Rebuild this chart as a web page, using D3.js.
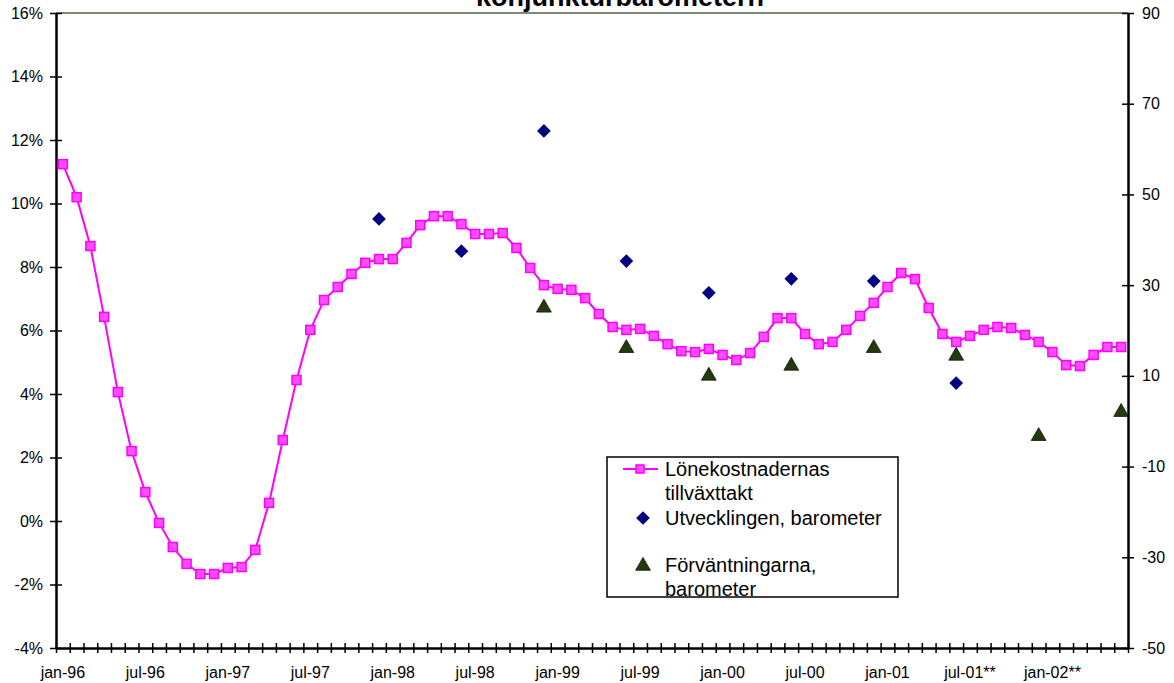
<!DOCTYPE html>
<html>
<head>
<meta charset="utf-8">
<script src="https://cdn.jsdelivr.net/npm/d3@7"></script>
<style>
  body { margin: 0; background: #fff; }
  svg { display: block; font-family: Arial, "Liberation Sans", sans-serif; }
</style>
</head>
<body>
<div id="chart"></div>
<script>
// months jan-96 .. jun-02
var monthNames = ["jan","feb","mar","apr","maj","jun","jul","aug","sep","okt","nov","dec"];
var years = ["96","97","98","99","00","01","02"];
var categories = [];
years.forEach(function(y) {
    monthNames.forEach(function(m) {
        if (categories.length < 78) categories.push(m + "-" + y);
    });
});

var tickLabels = ["jan-96","jul-96","jan-97","jul-97","jan-98","jul-98","jan-99","jul-99",
                  "jan-00","jul-00","jan-01","jul-01**","jan-02**"];

// Lönekostnadernas tillväxttakt, % (left axis)
var lonekostnader = [11.24,10.2,8.66,6.43,4.06,2.2,0.91,-0.06,-0.82,-1.35,-1.67,-1.67,
                     -1.48,-1.45,-0.91,0.57,2.55,4.44,6.02,6.96,7.37,7.78,8.13,8.25,
                     8.25,8.76,9.32,9.6,9.6,9.35,9.04,9.04,9.07,8.6,7.97,7.43,
                     7.31,7.28,7.02,6.52,6.11,6.02,6.05,5.83,5.57,5.35,5.32,5.42,
                     5.23,5.07,5.29,5.8,6.39,6.39,5.89,5.57,5.64,6.02,6.46,6.87,
                     7.37,7.81,7.62,6.71,5.89,5.64,5.83,6.02,6.11,6.08,5.86,5.64,
                     5.32,4.91,4.88,5.23,5.48,5.48];

// Konjunkturbarometern (right axis)
var utvecklingMonths = ["dec-97","jun-98","dec-98","jun-99","dec-99","jun-00","dec-00","jun-01"];
var utvecklingValues = [44.6,37.5,64.0,35.3,28.3,31.4,30.9,8.4];

var forvantningMonths = ["dec-98","jun-99","dec-99","jun-00","dec-00","jun-01","dec-01","jun-02"];
var forvantningValues = [25.0,16.1,10.0,12.2,16.1,14.4,-3.3,2.0];

var leftTicks = [-4,-2,0,2,4,6,8,10,12,14,16];
var rightTicks = [-50,-30,-10,10,30,50,70,90];

var W = 1174, H = 683;
var plotL = 56, plotR = 1128, plotT = 13, plotB = 648;

var svg = d3.select("#chart").append("svg")
    .attr("width", W).attr("height", H);

var x = d3.scaleBand().domain(categories).range([plotL, plotR]).padding(0);
var xb = d3.scaleLinear().domain([0, categories.length]).range([plotL, plotR]);
var y = d3.scaleLinear().domain([-4, 16]).range([plotB, plotT]);
var y2 = d3.scaleLinear().domain([-50, 90]).range([plotB, plotT]);

function cx(c) { return x(c) + x.bandwidth() / 2; }

// title (cut by top of picture)
svg.append("text")
    .attr("x", 620).attr("y", 6)
    .attr("text-anchor", "middle")
    .style("font-size", "27px").style("font-weight", "bold")
    .text("konjunkturbarometern");

// top border
svg.append("line")
    .attr("x1", plotL).attr("x2", plotR).attr("y1", plotT).attr("y2", plotT)
    .attr("stroke", "#808878").attr("stroke-width", 2);

// left axis
var yAxis = d3.axisLeft(y).tickValues(leftTicks)
    .tickFormat(function(d) { return d + "%"; })
    .tickSizeInner(6).tickSizeOuter(0).tickPadding(7);
var gy = svg.append("g").attr("transform", "translate(" + plotL + ",0)").call(yAxis);
gy.selectAll(".tick line").attr("x2", -6).attr("x1", 6).attr("stroke-width", 1.5);

// right axis
var y2Axis = d3.axisRight(y2).tickValues(rightTicks)
    .tickFormat(function(d) { return String(d); })
    .tickSizeInner(6).tickSizeOuter(0).tickPadding(8);
var gy2 = svg.append("g").attr("transform", "translate(" + plotR + ",0)").call(y2Axis);
gy2.selectAll(".tick line").attr("x1", -6).attr("x2", 6).attr("stroke-width", 1.5);

// bottom axis: ticks between months
var xAxis = d3.axisBottom(xb).tickValues(d3.range(0, categories.length + 1))
    .tickFormat("").tickSizeInner(5).tickSizeOuter(0);
var gx = svg.append("g").attr("transform", "translate(0," + plotB + ")").call(xAxis);
gx.selectAll(".tick line").attr("y1", -5).attr("y2", 5).attr("stroke-width", 1.5);

[gy, gy2, gx].forEach(function(g) {
    g.select(".domain").attr("stroke", "#000").attr("stroke-width", 2.5);
    g.selectAll(".tick line").attr("stroke", "#000");
    g.selectAll("text").style("font-size", "16px").attr("fill", "#000")
        .style("font-family", "Arial, 'Liberation Sans', sans-serif");
});

// month labels
svg.append("g").selectAll("text")
    .data(tickLabels)
    .join("text")
    .attr("x", function(d) { return cx(d.replace("**", "")); })
    .attr("y", 678)
    .attr("text-anchor", "middle")
    .style("font-size", "16px")
    .text(function(d) { return d; });

// line series
var line = d3.line()
    .x(function(d, i) { return cx(categories[i]); })
    .y(function(d) { return y(d); });

svg.append("path")
    .datum(lonekostnader)
    .attr("d", line)
    .attr("fill", "none")
    .attr("stroke", "#ff00ff")
    .attr("stroke-width", 2);

svg.append("g").selectAll("rect")
    .data(lonekostnader)
    .join("rect")
    .attr("x", function(d, i) { return cx(categories[i]) - 4.5; })
    .attr("y", function(d) { return y(d) - 4.5; })
    .attr("width", 9).attr("height", 9)
    .attr("fill", "#ff4dff")
    .attr("stroke", "#ff00ff")
    .attr("stroke-width", 1.5);

var diamond = d3.symbol().type(d3.symbolDiamond2).size(120);
var triangle = d3.symbol().type(d3.symbolTriangle).size(95);

svg.append("g").selectAll("path")
    .data(utvecklingValues)
    .join("path")
    .attr("d", diamond)
    .attr("transform", function(d, i) {
        return "translate(" + cx(utvecklingMonths[i]) + "," + y2(d) + ")";
    })
    .attr("fill", "#000080");

svg.append("g").selectAll("path")
    .data(forvantningValues)
    .join("path")
    .attr("d", triangle)
    .attr("transform", function(d, i) {
        return "translate(" + cx(forvantningMonths[i]) + "," + y2(d) + ")";
    })
    .attr("fill", "#233a0c")
    .attr("stroke", "#111")
    .attr("stroke-width", 0.8);

// legend
var lg = svg.append("g");
lg.append("rect")
    .attr("x", 607).attr("y", 457).attr("width", 291).attr("height", 140)
    .attr("fill", "#fff").attr("stroke", "#000").attr("stroke-width", 1.5);
lg.append("line")
    .attr("x1", 623).attr("x2", 658).attr("y1", 469).attr("y2", 469)
    .attr("stroke", "#ff00ff").attr("stroke-width", 2);
lg.append("rect")
    .attr("x", 636).attr("y", 465).attr("width", 8).attr("height", 8)
    .attr("fill", "#ff4dff").attr("stroke", "#ff00ff").attr("stroke-width", 1.5);
lg.append("path").attr("d", diamond)
    .attr("transform", "translate(643,518)").attr("fill", "#000080");
lg.append("path").attr("d", triangle)
    .attr("transform", "translate(643,566)")
    .attr("fill", "#233a0c").attr("stroke", "#111").attr("stroke-width", 0.8);

var legendLines = [
    ["Lönekostnadernas", 476],
    ["tillväxttakt", 500],
    ["Utvecklingen, barometer", 525],
    ["Förväntningarna,", 572],
    ["barometer", 596]
];
lg.selectAll("text.leg")
    .data(legendLines)
    .join("text")
    .attr("class", "leg")
    .attr("x", 665)
    .attr("y", function(d) { return d[1]; })
    .style("font-size", "20px")
    .text(function(d) { return d[0]; });
</script>
</body>
</html>
